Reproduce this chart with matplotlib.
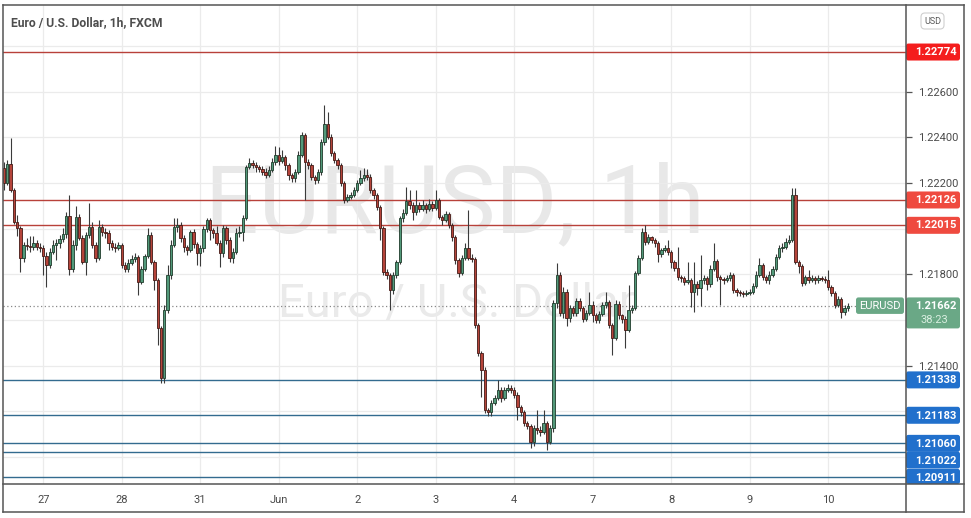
import matplotlib
matplotlib.use("Agg")
import matplotlib.pyplot as plt
from matplotlib.patches import FancyBboxPatch
from matplotlib.lines import Line2D

plt.rcParams['font.family'] = ['Roboto', 'DejaVu Sans']

# ---------------- data (EUR/USD, 1h, FXCM) ----------------
title = "Euro / U.S. Dollar, 1h, FXCM"
symbol = "EURUSD"
countdown = "38:23"
day_labels = ["27", "28", "31", "Jun", "2", "3", "4", "7", "8", "9", "10"]
day_start_bar = [12, 36, 60, 84, 108, 132, 156, 180, 204, 228, 252]
price_ticks = [1.210, 1.212, 1.214, 1.216, 1.218, 1.220, 1.222, 1.224, 1.226, 1.228]
# tick labels that are not covered by a price badge
price_tick_labels = ["", "", "1.21400", "", "1.21800", "", "1.22200", "1.22400", "1.22600", ""]
resistance_levels = [1.22774, 1.22126, 1.22015]
support_levels = [1.21338, 1.21183, 1.21060, 1.21022, 1.20911]
last_price = 1.21662

first_open = 1.22266
closes = [
    1.22200, 1.22284, 1.22170, 1.22030, 1.22003, 1.21872, 1.21929, 1.21925, 1.21920, 1.21938,
    1.21920, 1.21916, 1.21881, 1.21841, 1.21898, 1.21929, 1.21938, 1.21955, 1.21977, 1.22056,
    1.21824, 1.21929, 1.22052, 1.21960, 1.21854, 1.21973, 1.22008, 1.21929, 1.21872, 1.22008,
    1.21986, 1.21981, 1.21938, 1.21920, 1.21916, 1.21929, 1.21841, 1.21824, 1.21850, 1.21868,
    1.21876, 1.21767, 1.21824, 1.21881, 1.21973, 1.21854, 1.21776, 1.21565, 1.21346, 1.21644,
    1.21798, 1.21929, 1.22008, 1.22017, 1.21960, 1.21920, 1.21907, 1.21986, 1.21933, 1.21894,
    1.21916, 1.21999, 1.22038, 1.21995, 1.21981, 1.21938, 1.21894, 1.22003, 1.21951, 1.21872,
    1.21898, 1.21981, 1.21986, 1.22047, 1.22271, 1.22288, 1.22279, 1.22271, 1.22262, 1.22249,
    1.22236, 1.22257, 1.22292, 1.22323, 1.22297, 1.22314, 1.22279, 1.22236, 1.22222, 1.22249,
    1.22323, 1.22411, 1.22292, 1.22279, 1.22227, 1.22214, 1.22249, 1.22380, 1.22459, 1.22402,
    1.22332, 1.22301, 1.22279, 1.22200, 1.22126, 1.22139, 1.22148, 1.22170, 1.22200, 1.22222,
    1.22236, 1.22227, 1.22170, 1.22148, 1.22095, 1.22003, 1.21811, 1.21798, 1.21732, 1.21798,
    1.21854, 1.22047, 1.22069, 1.22122, 1.22104, 1.22073, 1.22104, 1.22087, 1.22104, 1.22087,
    1.22108, 1.22091, 1.22126, 1.22052, 1.22038, 1.22065, 1.22017, 1.21964, 1.21863, 1.21806,
    1.21872, 1.21916, 1.21872, 1.21868, 1.21579, 1.21456, 1.21381, 1.21206, 1.21197, 1.21237,
    1.21259, 1.21294, 1.21259, 1.21294, 1.21303, 1.21294, 1.21272, 1.21219, 1.21197, 1.21149,
    1.21136, 1.21066, 1.21127, 1.21119, 1.21110, 1.21149, 1.21066, 1.21127, 1.21675, 1.21798,
    1.21631, 1.21723, 1.21609, 1.21653, 1.21631, 1.21684, 1.21653, 1.21605, 1.21631, 1.21666,
    1.21622, 1.21600, 1.21627, 1.21666, 1.21679, 1.21579, 1.21522, 1.21670, 1.21622, 1.21605,
    1.21557, 1.21644, 1.21653, 1.21806, 1.21872, 1.21986, 1.21942, 1.21964, 1.21951, 1.21938,
    1.21889, 1.21907, 1.21916, 1.21898, 1.21854, 1.21828, 1.21789, 1.21784, 1.21767, 1.21776,
    1.21723, 1.21758, 1.21741, 1.21776, 1.21784, 1.21758, 1.21824, 1.21859, 1.21789, 1.21780,
    1.21776, 1.21784, 1.21798, 1.21732, 1.21723, 1.21719, 1.21714, 1.21719, 1.21723, 1.21749,
    1.21798, 1.21841, 1.21789, 1.21776, 1.21798, 1.21824, 1.21876, 1.21916, 1.21920, 1.21942,
    1.21951, 1.22148, 1.21854, 1.21837, 1.21762, 1.21789, 1.21776, 1.21784, 1.21776, 1.21784,
    1.21780, 1.21776, 1.21745, 1.21719, 1.21666, 1.21692, 1.21635, 1.21653, 1.21662,
]
highs = [
    1.22292, 1.22301, 1.22398, 1.22179, 1.22060, 1.22010, 1.21942, 1.21960, 1.21968, 1.21968,
    1.21951, 1.21938, 1.21929, 1.21898, 1.21916, 1.21951, 1.21955, 1.21973, 1.22003, 1.22073,
    1.22148, 1.21951, 1.22100, 1.22065, 1.21973, 1.21986, 1.22113, 1.22030, 1.21942, 1.22038,
    1.22021, 1.22003, 1.21995, 1.21951, 1.21938, 1.21942, 1.21938, 1.21854, 1.21868, 1.21885,
    1.21894, 1.21885, 1.21837, 1.21889, 1.22003, 1.21986, 1.21863, 1.21784, 1.21574, 1.21666,
    1.21841, 1.21951, 1.22047, 1.22047, 1.22030, 1.21973, 1.21929, 1.21995, 1.21999, 1.21942,
    1.21929, 1.22012, 1.22047, 1.22047, 1.22003, 1.22012, 1.21951, 1.22017, 1.22012, 1.21964,
    1.21916, 1.22003, 1.22012, 1.22060, 1.22279, 1.22310, 1.22301, 1.22292, 1.22279, 1.22275,
    1.22266, 1.22275, 1.22310, 1.22363, 1.22358, 1.22345, 1.22323, 1.22288, 1.22244, 1.22262,
    1.22341, 1.22424, 1.22420, 1.22305, 1.22288, 1.22236, 1.22262, 1.22393, 1.22542, 1.22511,
    1.22415, 1.22341, 1.22310, 1.22288, 1.22209, 1.22152, 1.22161, 1.22183, 1.22214, 1.22257,
    1.22266, 1.22262, 1.22240, 1.22179, 1.22157, 1.22104, 1.22012, 1.21824, 1.21806, 1.21811,
    1.21863, 1.22056, 1.22087, 1.22183, 1.22170, 1.22117, 1.22170, 1.22117, 1.22126, 1.22113,
    1.22130, 1.22122, 1.22170, 1.22135, 1.22060, 1.22078, 1.22073, 1.22025, 1.21973, 1.21872,
    1.21885, 1.21938, 1.22082, 1.21889, 1.21876, 1.21587, 1.21465, 1.21395, 1.21215, 1.21250,
    1.21272, 1.21338, 1.21307, 1.21307, 1.21320, 1.21316, 1.21307, 1.21285, 1.21228, 1.21206,
    1.21158, 1.21145, 1.21140, 1.21206, 1.21136, 1.21206, 1.21158, 1.21140, 1.21688, 1.21850,
    1.21811, 1.21745, 1.21736, 1.21666, 1.21662, 1.21697, 1.21697, 1.21662, 1.21644, 1.21723,
    1.21684, 1.21631, 1.21640, 1.21679, 1.21723, 1.21688, 1.21587, 1.21688, 1.21684, 1.21627,
    1.21618, 1.21754, 1.21666, 1.21815, 1.21885, 1.22003, 1.22017, 1.21977, 1.21968, 1.21960,
    1.21946, 1.21916, 1.21929, 1.21951, 1.21907, 1.21863, 1.21920, 1.21798, 1.21793, 1.21854,
    1.21784, 1.21854, 1.21771, 1.21885, 1.21798, 1.21793, 1.21841, 1.21938, 1.21868, 1.21798,
    1.21789, 1.21798, 1.21811, 1.21806, 1.21741, 1.21732, 1.21727, 1.21732, 1.21736, 1.21762,
    1.21815, 1.21872, 1.21850, 1.21798, 1.21815, 1.21837, 1.21889, 1.21929, 1.21938, 1.21960,
    1.21973, 1.22179, 1.22179, 1.21863, 1.21846, 1.21798, 1.21820, 1.21798, 1.21793, 1.21798,
    1.21793, 1.21793, 1.21820, 1.21754, 1.21727, 1.21706, 1.21701, 1.21666, 1.21675,
]
lows = [
    1.22170, 1.22192, 1.22161, 1.22021, 1.21968, 1.21811, 1.21854, 1.21907, 1.21898, 1.21907,
    1.21907, 1.21898, 1.21798, 1.21745, 1.21828, 1.21889, 1.21863, 1.21916, 1.21942, 1.21960,
    1.21798, 1.21811, 1.21907, 1.21951, 1.21846, 1.21798, 1.21960, 1.21916, 1.21854, 1.21863,
    1.21968, 1.21960, 1.21907, 1.21907, 1.21898, 1.21907, 1.21828, 1.21811, 1.21811, 1.21841,
    1.21854, 1.21710, 1.21758, 1.21815, 1.21872, 1.21846, 1.21732, 1.21491, 1.21326, 1.21326,
    1.21631, 1.21780, 1.21920, 1.21986, 1.21942, 1.21898, 1.21885, 1.21898, 1.21916, 1.21841,
    1.21837, 1.21898, 1.21986, 1.21951, 1.21960, 1.21929, 1.21833, 1.21876, 1.21933, 1.21854,
    1.21850, 1.21889, 1.21964, 1.21946, 1.22038, 1.22262, 1.22266, 1.22249, 1.22249, 1.22236,
    1.22222, 1.22227, 1.22249, 1.22279, 1.22279, 1.22288, 1.22257, 1.22214, 1.22205, 1.22205,
    1.22240, 1.22314, 1.22126, 1.22262, 1.22214, 1.22196, 1.22200, 1.22236, 1.22367, 1.22393,
    1.22319, 1.22288, 1.22262, 1.22187, 1.22113, 1.22117, 1.22130, 1.22139, 1.22161, 1.22192,
    1.22209, 1.22214, 1.22157, 1.22130, 1.22082, 1.21951, 1.21798, 1.21780, 1.21644, 1.21714,
    1.21784, 1.21846, 1.22030, 1.22060, 1.22087, 1.22038, 1.22060, 1.22073, 1.22078, 1.22069,
    1.22078, 1.22078, 1.22082, 1.22043, 1.22017, 1.22030, 1.22003, 1.21946, 1.21846, 1.21789,
    1.21798, 1.21863, 1.21863, 1.21854, 1.21565, 1.21443, 1.21263, 1.21193, 1.21180, 1.21180,
    1.21228, 1.21250, 1.21241, 1.21250, 1.21285, 1.21281, 1.21259, 1.21162, 1.21180, 1.21136,
    1.21123, 1.21040, 1.21049, 1.21101, 1.21092, 1.21101, 1.21031, 1.21057, 1.21110, 1.21653,
    1.21618, 1.21609, 1.21574, 1.21592, 1.21618, 1.21618, 1.21640, 1.21592, 1.21596, 1.21622,
    1.21592, 1.21587, 1.21587, 1.21618, 1.21653, 1.21565, 1.21447, 1.21513, 1.21605, 1.21587,
    1.21478, 1.21548, 1.21631, 1.21644, 1.21798, 1.21863, 1.21929, 1.21933, 1.21938, 1.21920,
    1.21854, 1.21876, 1.21898, 1.21885, 1.21828, 1.21815, 1.21776, 1.21767, 1.21754, 1.21758,
    1.21657, 1.21635, 1.21710, 1.21662, 1.21758, 1.21732, 1.21745, 1.21815, 1.21771, 1.21666,
    1.21758, 1.21767, 1.21771, 1.21719, 1.21706, 1.21706, 1.21701, 1.21706, 1.21710, 1.21714,
    1.21741, 1.21789, 1.21776, 1.21762, 1.21758, 1.21789, 1.21815, 1.21868, 1.21898, 1.21911,
    1.21933, 1.21942, 1.21846, 1.21806, 1.21749, 1.21754, 1.21762, 1.21767, 1.21758, 1.21762,
    1.21771, 1.21762, 1.21732, 1.21706, 1.21653, 1.21657, 1.21609, 1.21622, 1.21640,
]
# each hourly bar opens where the previous one closed
opens = [first_open] + closes[:-1]

# ---------------- layout ----------------
W, H = 971, 518
fig = plt.figure(figsize=(W / 100, H / 100), dpi=100)
fig.patch.set_facecolor('white')


def fx(x):
    return x / W


def fy(y):
    return 1 - y / H


PL, PR, PT, PB = 3, 906, 5, 484          # plot area in pixels
ax = fig.add_axes([fx(PL), fy(PB), (PR - PL) / W, (PB - PT) / H])
ax.set_facecolor('white')
ax.set_xlim(-0.3, 275.8)
ax.set_ylim(1.20882, 1.22980)
for s in ax.spines.values():
    s.set_visible(False)

# grid
for p in price_ticks:
    ax.axhline(p, color='#ebebeb', lw=0.9, zorder=0.6)
for d in day_start_bar:
    ax.axvline(d, color='#ebebeb', lw=0.9, zorder=0.6)

# watermark
ax.text((455 - PL) / (PR - PL), 1 - (232 - PT) / (PB - PT), "EURUSD, 1h",
        transform=ax.transAxes, fontsize=68, color='#e8e8e8',
        ha='center', va='baseline', zorder=0.5)
ax.text((456 - PL) / (PR - PL), 1 - (317 - PT) / (PB - PT), "Euro / U.S. Dollar",
        transform=ax.transAxes, fontsize=34, color='#eaeaea',
        ha='center', va='baseline', zorder=0.5)

# level lines
for lv in resistance_levels:
    ax.axhline(lv, color='#b8413a', lw=1.0, zorder=2)
for lv in support_levels:
    ax.axhline(lv, color='#336b8f', lw=1.0, zorder=2)
ax.axhline(last_price, xmax=(856 - PL) / (PR - PL), color='#888888', lw=0.9,
           linestyle=(0, (1, 2)), zorder=1.8)

# candles
up_fill, up_edge = '#52997a', '#1f3b2b'
dn_fill, dn_edge = '#b5443a', '#431915'
xs = list(range(len(closes)))
for x, o, h, l, c in zip(xs, opens, highs, lows, closes):
    up = c >= o
    ax.vlines(x, min(l, o, c), max(h, o, c), color='#3a3a3a', lw=0.8, zorder=3)
    ax.bar(x, max(abs(c - o), 0.00003), bottom=min(o, c), width=0.72,
           color=up_fill if up else dn_fill,
           edgecolor=up_edge if up else dn_edge, linewidth=0.6, zorder=4)

# axes ticks
ax.set_xticks(day_start_bar)
ax.set_xticklabels(day_labels)
ax.tick_params(axis='x', length=0, pad=8, labelsize=8, labelcolor='#4a4a4a')
ax.yaxis.tick_right()
ax.set_yticks(price_ticks)
ax.set_yticklabels(price_tick_labels)
ax.tick_params(axis='y', length=4, width=0.9, color='#555555', pad=5,
               labelsize=8, labelcolor='#4a4a4a')

fig.canvas.draw()


def price_px(p):
    return H - ax.transData.transform((0, p))[1]


def badge(x0, x1, ytop, ybot, color, zorder=5):
    ybot = min(ybot, PB)
    patch = FancyBboxPatch((fx(x0), fy(ybot)), (x1 - x0) / W, (ybot - ytop) / H,
                           boxstyle="round,pad=0,rounding_size=0.0025",
                           mutation_aspect=W / H, transform=fig.transFigure,
                           facecolor=color, edgecolor='none', zorder=zorder)
    fig.add_artist(patch)


BH = 17
res_colors = ['#f41d1d', '#ef4a3f', '#ef4a3f']
for lv, col in zip(resistance_levels, res_colors):
    yc = price_px(lv)
    badge(906, 960, yc - BH / 2, yc + BH / 2, col)
    fig.text(fx(936), fy(yc), f"{lv:.5f}", color='white', fontsize=8,
             fontweight='bold', ha='center', va='center', zorder=6)

sup_shift = [0, 0, 0, 8, 0]
for lv, sh in zip(support_levels, sup_shift):
    yc = price_px(lv) + sh
    badge(906, 960, yc - BH / 2, yc + BH / 2, '#2170cc')
    fig.text(fx(936), fy(min(yc + 0.5, PB - 5.5)), f"{lv:.5f}", color='white',
             fontsize=8, fontweight='bold', ha='center', va='center', zorder=6)

# current price badges
yc = price_px(last_price)
badge(906, 960, yc - 8.5, yc + 22.5, '#6aa886')
fig.text(fx(936), fy(yc), f"{last_price:.5f}", color='white', fontsize=8,
         fontweight='bold', ha='center', va='center', zorder=6)
fig.text(fx(934), fy(yc + 14.5), countdown, color='#d9eee0', fontsize=8,
         ha='center', va='center', zorder=6)
badge(856, 904, yc - 8.5, yc + 8, '#6aa886')
fig.text(fx(880), fy(yc), symbol, color='white', fontsize=8,
         ha='center', va='center', zorder=6)

# title and currency box
fig.text(fx(11), fy(22.5), title, fontsize=8.7, fontweight='bold',
         color='#4d4d4d', ha='left', va='center')
fig.add_artist(FancyBboxPatch((fx(921), fy(29)), 23 / W, 16 / H,
                              boxstyle="round,pad=0,rounding_size=0.004",
                              mutation_aspect=W / H, transform=fig.transFigure,
                              facecolor='white', edgecolor='#cfcfcf', lw=0.8))
fig.text(fx(932.5), fy(21), "USD", fontsize=6.5, color='#5a5a5a',
         ha='center', va='center')

# frame lines
frame = [((3, 5), (964, 5)), ((3, 5), (3, 512)), ((964, 5), (964, 512)),
         ((3, 512), (964, 512)), ((3, 484), (964, 484)), ((906, 5), (906, 512))]
for (x0, y0), (x1, y1) in frame:
    fig.add_artist(Line2D([fx(x0), fx(x1)], [fy(y0), fy(y1)],
                          transform=fig.transFigure, color='#555555', lw=1.1,
                          zorder=7))

fig.savefig("out.png", dpi=100, facecolor='white')
